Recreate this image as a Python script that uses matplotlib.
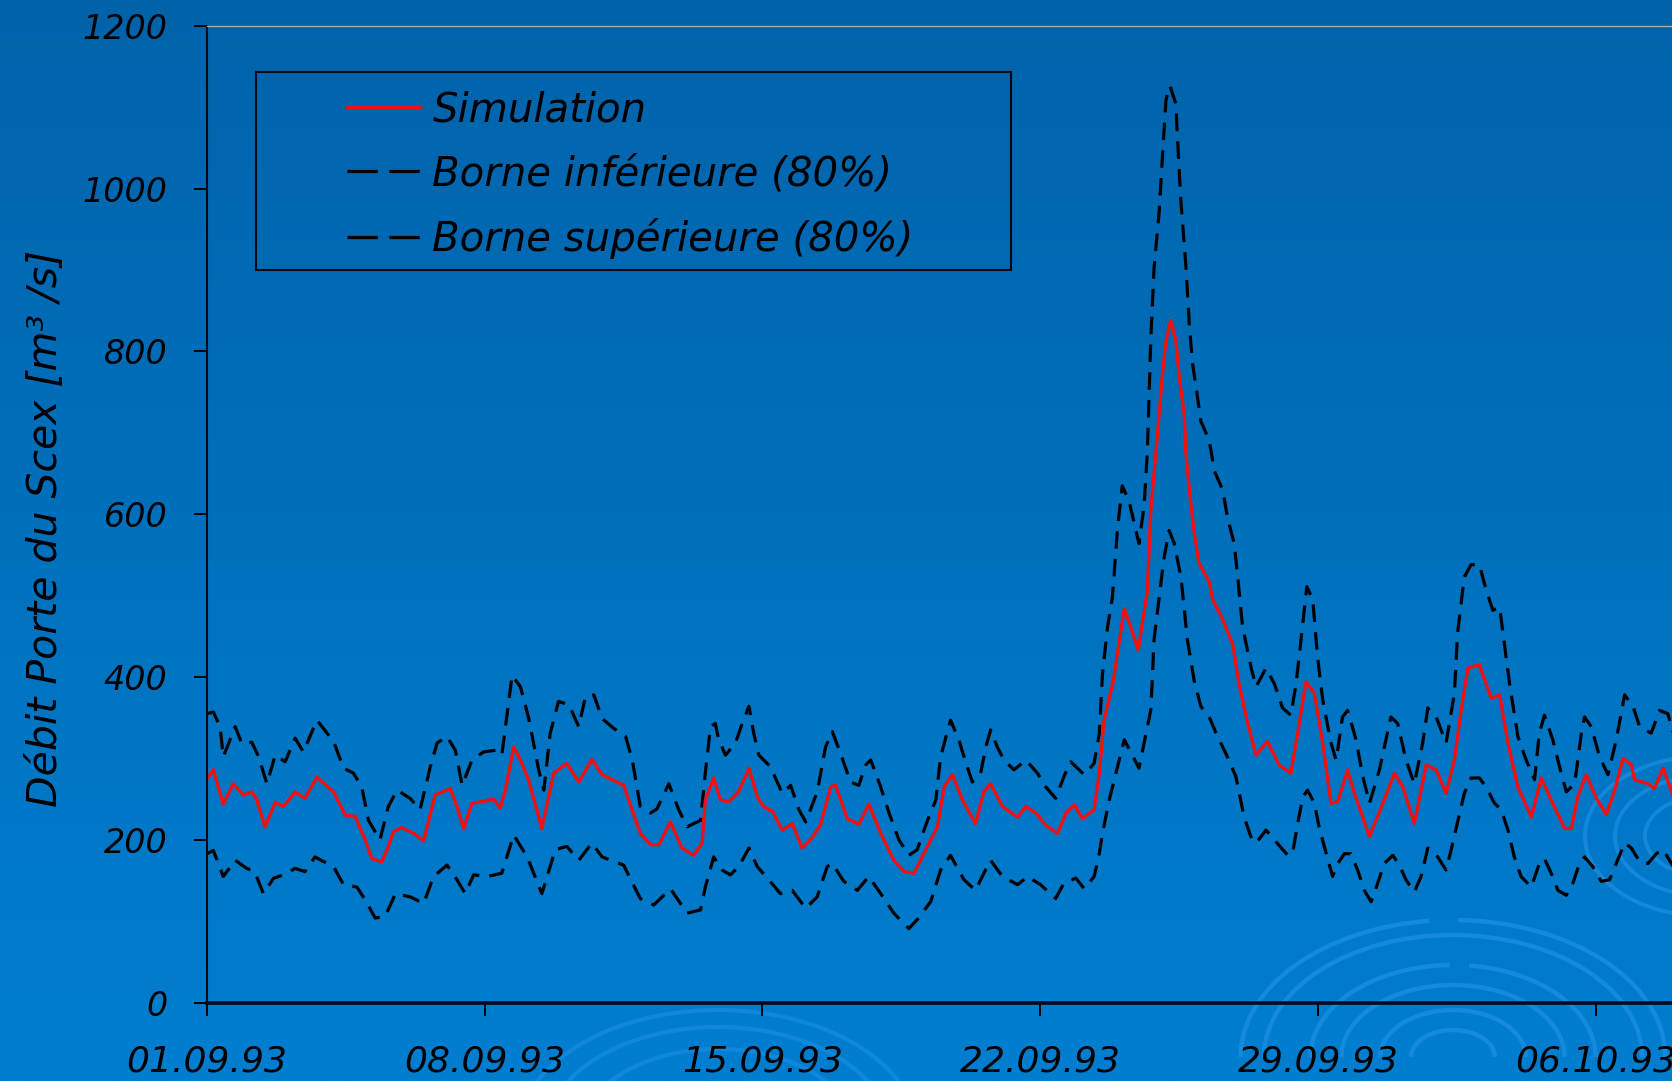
import numpy as np
import matplotlib
matplotlib.use("Agg")
import matplotlib.pyplot as plt
from matplotlib.patches import Arc, Rectangle
from matplotlib.lines import Line2D

# ---------------- data (days since 01.09.93, discharge m3/s) ----------------
sim_days = [0.00, 0.16, 0.41, 0.66, 0.92, 1.13, 1.25, 1.46, 1.72, 1.93, 2.22, 2.47, 2.77, 3.19, 3.49,
            3.73, 3.99, 4.15, 4.41, 4.57, 4.70, 4.91, 5.21, 5.46, 5.75, 6.13, 6.30, 6.47, 6.68, 6.93,
            7.22, 7.39, 7.52, 7.73, 7.90, 8.11, 8.44, 8.74, 9.07, 9.37, 9.70, 9.96, 10.50, 10.92, 11.18,
            11.39, 11.68, 11.97, 12.27, 12.48, 12.56, 12.77, 12.94, 13.15, 13.40, 13.66, 13.87, 14.03,
            14.25, 14.50, 14.75, 15.00, 15.21, 15.46, 15.72, 15.84, 16.14, 16.43, 16.68, 16.98, 17.31,
            17.57, 17.82, 18.16, 18.41, 18.58, 18.79, 19.04, 19.37, 19.58, 19.75, 20.05, 20.43, 20.64,
            20.89, 21.14, 21.44, 21.65, 21.86, 22.07, 22.36, 22.49, 22.61, 22.83, 23.12, 23.28, 23.47,
            23.70, 23.79, 23.96, 24.08, 24.17, 24.29, 24.42, 24.50, 24.63, 24.67, 24.76, 24.88, 25.00,
            25.26, 25.35, 25.55, 25.85, 26.01, 26.23, 26.44, 26.73, 27.02, 27.32, 27.49, 27.70, 27.91,
            28.12, 28.33, 28.50, 28.75, 28.92, 29.30, 29.59, 29.93, 30.14, 30.43, 30.73, 30.98, 31.23,
            31.44, 31.61, 31.78, 32.07, 32.37, 32.58, 32.79, 33.04, 33.38, 33.63, 33.88, 34.22, 34.39,
            34.55, 34.76, 35.02, 35.27, 35.48, 35.69, 35.90, 35.98, 36.32, 36.48, 36.70, 36.96]
sim_vals = [275, 286, 244, 269, 255, 259, 250, 216, 246, 241, 259, 251, 277, 259, 230,
            229, 200, 177, 173, 192, 210, 215, 208, 199, 255, 263, 241, 214, 245, 247,
            250, 239, 261, 314, 298, 273, 214, 282, 294, 271, 299, 280, 267, 208, 194,
            194, 222, 190, 181, 196, 249, 276, 249, 247, 259, 288, 253, 241,
            235, 212, 220, 190, 200, 218, 265, 267, 226, 219, 244, 208, 175,
            161, 159, 192, 216, 265, 280, 249, 220, 259, 269, 241, 228, 241,
            233, 218, 208, 233, 243, 226, 237, 282, 347, 392, 484, 462, 433,
            505, 606, 700, 771, 813, 838, 813, 771, 723, 676, 630, 578, 540,
            517, 495, 476, 441, 392, 343, 304, 321, 292, 282, 331, 394, 380,
            319, 245, 247, 286, 257, 204, 239, 282, 265, 220, 292, 286, 257,
            298, 359, 411, 415, 374, 378, 319, 265, 228, 276, 249, 214, 214,
            253, 280, 251, 231, 261, 300, 292, 274, 269, 263, 288, 253]

upper_days = [0.00, 0.16, 0.33, 0.41, 0.71, 0.88, 1.13, 1.30, 1.51, 1.72, 1.97, 2.22, 2.43, 2.77, 3.19,
              3.44, 3.69, 3.90, 4.07, 4.36, 4.57, 4.79, 5.12, 5.37, 5.63, 5.80, 6.05, 6.26, 6.43, 6.68,
              6.97, 7.27, 7.43, 7.60, 7.69, 7.90, 8.11, 8.36, 8.49, 8.65, 8.86, 9.12, 9.37, 9.54, 9.75,
              9.96, 10.25, 10.55, 10.72, 10.92, 11.18, 11.34, 11.64, 11.89, 12.10, 12.44, 12.56, 12.69,
              12.81, 12.90, 13.07, 13.32, 13.49, 13.66, 13.78, 13.91, 14.20, 14.50, 14.71, 14.92, 15.09,
              15.38, 15.59, 15.76, 15.97, 16.22, 16.43, 16.60, 16.73, 16.98, 17.19, 17.44, 17.69, 17.90,
              18.16, 18.37, 18.49, 18.74, 18.95, 19.08, 19.29, 19.50, 19.63, 19.75, 19.92, 20.09, 20.34,
              20.64, 20.93, 21.14, 21.39, 21.60, 21.77, 22.11, 22.36, 22.49, 22.57, 22.70, 22.82, 22.95,
              23.07, 23.24, 23.49, 23.62, 23.70, 23.75, 23.79, 23.87, 24.00, 24.08, 24.17, 24.27, 24.42,
              24.46, 24.55, 24.67, 24.76, 24.84, 24.93, 25.05, 25.26, 25.39, 25.60, 25.72, 25.89, 25.98,
              26.10, 26.31, 26.44, 26.69, 26.90, 27.11, 27.32, 27.45, 27.62, 27.72, 27.87, 27.99, 28.12,
              28.33, 28.46, 28.62, 28.75, 28.96, 29.13, 29.30, 29.55, 29.84, 30.01, 30.22, 30.43, 30.64,
              30.77, 30.98, 31.23, 31.44, 31.52, 31.69, 31.86, 32.07, 32.24, 32.41, 32.58, 32.70, 32.83,
              33.04, 33.25, 33.46, 33.58, 33.71, 33.92, 34.09, 34.26, 34.47, 34.64, 34.72, 34.89, 35.10,
              35.31, 35.52, 35.73, 35.94, 36.11, 36.40, 36.61, 36.82, 36.96]
upper_vals = [355, 357, 339, 302, 339, 318, 320, 302, 269, 304, 296, 325, 308, 347, 321,
              288, 282, 265, 224, 200, 241, 261, 251, 237, 290, 319, 327, 310, 267, 298,
              308, 310, 304, 368, 402, 388, 349, 286, 261, 331, 370, 366, 339, 376, 378,
              349, 337, 327, 298, 241, 233, 238, 269, 237, 216, 224, 282, 339,
              343, 323, 304, 319, 343, 364, 331, 304, 290, 257, 267, 237, 222,
              259, 314, 333, 306, 271, 267, 292, 298, 265, 233, 200, 181, 188,
              224, 249, 302, 347, 323, 302, 271, 282, 314, 335, 314, 298, 286,
              298, 282, 265, 251, 278, 296, 280, 294, 331, 404, 462, 498, 583,
              635, 616, 564, 611, 676, 756, 818, 902, 972, 1038, 1109, 1126, 1104,
              1062, 982, 907, 832, 785, 756, 714, 691, 653, 630, 596, 564, 522,
              462, 413, 388, 411, 392, 362, 353, 392, 466, 511, 495, 425, 372,
              319, 298, 351, 359, 323, 278, 245, 286, 351, 343, 298, 269, 319,
              362, 351, 319, 380, 454, 523, 538, 538, 507, 482, 486, 441, 392,
              327, 298, 274, 331, 353, 323, 290, 259, 269, 331, 351, 339, 302,
              280, 323, 378, 364, 339, 331, 359, 355, 331]

lower_days = [0.00, 0.16, 0.41, 0.71, 1.00, 1.20, 1.42, 1.68, 1.93, 2.22, 2.47, 2.72, 3.19, 3.44, 3.78,
              3.99, 4.24, 4.49, 4.75, 5.12, 5.46, 5.71, 6.05, 6.30, 6.51, 6.72, 7.06, 7.43, 7.73, 8.07,
              8.44, 8.78, 9.07, 9.37, 9.70, 9.96, 10.50, 10.92, 11.26, 11.43, 11.68, 12.10, 12.44, 12.56,
              12.77, 12.98, 13.19, 13.40, 13.66, 13.87, 14.16, 14.45, 14.75, 15.09, 15.38, 15.63, 15.76,
              16.05, 16.39, 16.68, 16.98, 17.31, 17.69, 17.90, 18.24, 18.49, 18.74, 19.08, 19.37, 19.58,
              19.75, 20.05, 20.43, 20.68, 21.01, 21.39, 21.60, 21.90, 22.11, 22.36, 22.49, 22.57, 22.74,
              22.95, 23.12, 23.28, 23.49, 23.62, 23.79, 23.87, 24.00, 24.12, 24.25, 24.38, 24.55, 24.63,
              24.71, 24.88, 25.05, 25.26, 25.47, 25.72, 25.93, 26.02, 26.14, 26.31, 26.44, 26.69, 26.94,
              27.24, 27.36, 27.49, 27.62, 27.74, 27.91, 28.03, 28.16, 28.37, 28.50, 28.67, 28.83, 29.00,
              29.17, 29.34, 29.51, 29.67, 29.89, 30.05, 30.22, 30.43, 30.60, 30.77, 31.02, 31.23, 31.36,
              31.53, 31.69, 31.86, 32.07, 32.24, 32.45, 32.62, 32.79, 32.95, 33.12, 33.38, 33.58, 33.71,
              33.88, 34.05, 34.26, 34.43, 34.59, 34.72, 34.93, 35.14, 35.35, 35.52, 35.73, 35.90, 36.11,
              36.32, 36.53, 36.70, 36.96]
lower_vals = [183, 187, 155, 175, 165, 161, 134, 153, 157, 165, 161, 179, 167, 145, 142,
              126, 104, 106, 134, 130, 122, 155, 169, 151, 134, 157, 155, 159, 206, 179,
              134, 188, 192, 175, 196, 179, 169, 128, 120, 128, 140, 110, 114, 142,
              179, 163, 157, 167, 190, 167, 151, 134, 138, 116, 130, 167, 171,
              149, 138, 155, 134, 110, 91, 102, 124, 163, 181, 151, 138, 159,
              175, 155, 145, 155, 145, 128, 147, 153, 140, 155, 183, 208, 249,
              290, 323, 308, 288, 319, 360, 446, 498, 546, 580, 564, 522, 484,
              446, 396, 364, 351, 327, 302, 278, 257, 228, 204, 196, 212, 198,
              181, 183, 220, 253, 261, 245, 216, 192, 155, 171, 183, 183, 163,
              138, 124, 147, 171, 181, 169, 151, 136, 155, 190, 179, 163, 188,
              224, 257, 276, 276, 265, 245, 237, 212, 179, 155, 142, 171, 177,
              159, 138, 132, 147, 171, 179, 167, 149, 151, 171, 196, 190, 173,
              171, 183, 188, 167]

tick_days = [0, 7, 14, 21, 28, 35]
tick_labels = ["01.09.93", "08.09.93", "15.09.93", "22.09.93", "29.09.93", "06.10.93"]
y_ticks = [0, 200, 400, 600, 800, 1000, 1200]
labels = ["Simulation", "Borne inférieure (80%)", "Borne supérieure (80%)"]

# ---------------- figure ----------------
W, H = 1672, 1081
plt.rcParams["font.family"] = ["DejaVu Sans"]
plt.rcParams["font.style"] = "italic"

fig = plt.figure(figsize=(W / 100, H / 100), dpi=100)

# background gradient + ripple decoration
bg = fig.add_axes([0, 0, 1, 1], zorder=-10)
g = np.linspace(0, 1, 300)[:, None, None]
c_top = np.array([0x00, 0x63, 0xAA]) / 255.0
c_bot = np.array([0x00, 0x7E, 0xD0]) / 255.0
img = c_top * (1 - g) + c_bot * g
bg.imshow(img, aspect="auto", extent=[0, W, 0, H], origin="upper", interpolation="bilinear")
bg.set_xlim(0, W)
bg.set_ylim(0, H)
bg.axis("off")

ring_col = "#2b98ec"
# group near bottom right
for ry, t1, t2 in [(137, 0, 88), (137, 100, 180), (122, 0, 180), (92, 0, 80), (92, 92, 180),
                   (72, 0, 180), (47, 0, 180), (27, 0, 180)]:
    bg.add_patch(Arc((1453, 24), 2 * ry * 1.55, 2 * ry, theta1=t1, theta2=t2,
                     color=ring_col, lw=3.2, alpha=0.5))
# group near bottom centre
for ry in [125, 108, 86]:
    bg.add_patch(Arc((718, -54), 2 * ry * 1.6, 2 * ry, theta1=15, theta2=165,
                     color=ring_col, lw=3.0, alpha=0.4))
# small swirl at right edge
for ry in [40, 60, 80]:
    bg.add_patch(Arc((1705, 245), 2 * ry * 1.5, 2 * ry, theta1=90, theta2=270,
                     color=ring_col, lw=2.8, alpha=0.5))

# main axes
x0, ypix_bottom, ypix_top = 207.0, 78.3, 1055.3
ax = fig.add_axes([x0 / W, ypix_bottom / H, (W - x0) / W + 0.001, (ypix_top - ypix_bottom) / H])
ax.set_facecolor("none")

red = "#f01010"
ax.plot(lower_days, lower_vals, color="black", lw=2.3, dashes=(5.5, 3.2))
ax.plot(upper_days, upper_vals, color="black", lw=2.3, dashes=(5.5, 3.2))
ax.plot(sim_days, sim_vals, color=red, lw=2.4, solid_joinstyle="round")

ax.set_xlim(0, (W - x0) / 39.63)
ax.set_ylim(0, 1200)
ax.set_xticks(tick_days)
ax.set_xticklabels(tick_labels)
ax.set_yticks(y_ticks)
ax.set_yticklabels([str(v) for v in y_ticks])
ax.tick_params(axis="both", direction="out", length=9.4, width=1.4, color="black")
ax.tick_params(axis="y", labelsize=24, pad=19)
ax.tick_params(axis="x", labelsize=26, pad=21)

ax.spines["right"].set_visible(False)
ax.spines["top"].set_color("#a3adb8")
ax.spines["top"].set_linewidth(1.0)
ax.spines["left"].set_color("#050a14")
ax.spines["left"].set_linewidth(1.5)
ax.spines["bottom"].set_color("#050a14")
ax.spines["bottom"].set_linewidth(2.6)

# y label
fig.text(46 / W, (H - 528) / H, "Débit Porte du Scex [m³ /s]", rotation=90,
         ha="center", va="center", fontsize=29.5, color="black")

# legend
handles = [Line2D([], [], color=red, lw=2.4),
           Line2D([], [], color="black", lw=2.3, dashes=(9.5, 3.6)),
           Line2D([], [], color="black", lw=2.3, dashes=(9.5, 3.6))]
fig.legend(handles, labels, loc="upper left", bbox_to_anchor=(347 / W, 1 - 90.5 / H),
           bbox_transform=fig.transFigure, frameon=False, fontsize=29, borderpad=0,
           borderaxespad=0, handlelength=1.8, handletextpad=0.32, labelspacing=0.62)
fig.patches.append(Rectangle((256 / W, (H - 270) / H), 755 / W, 197.5 / H,
                             transform=fig.transFigure, fill=False, edgecolor="#050a14", lw=1.5))

fig.savefig("out.png", dpi=100)
